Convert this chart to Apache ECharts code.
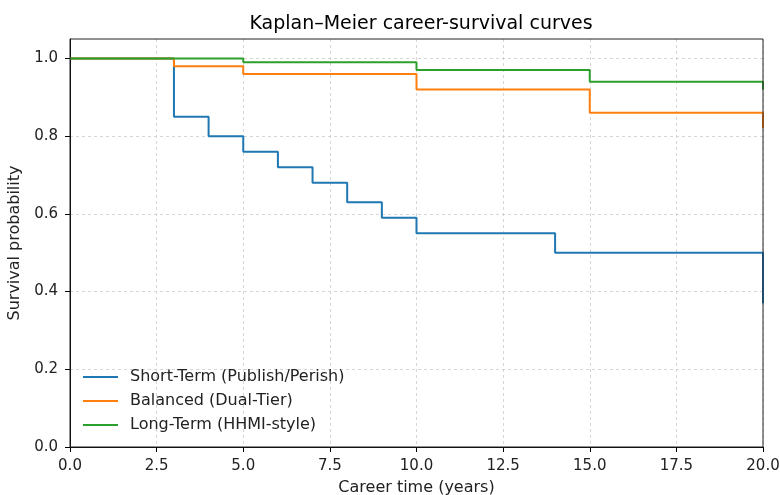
<!DOCTYPE html>
<html>
<head>
<meta charset="utf-8">
<script src="https://cdn.jsdelivr.net/npm/echarts@6/dist/echarts.min.js"></script>
<style>
  html, body { margin: 0; padding: 0; background: #fff; }
  #chart { width: 780px; height: 495px; }
</style>
</head>
<body>
<div id="chart"></div>
<script>
// step points: [time, survival] - value changes at that time
var shortTerm = [[0, 1.0], [3, 0.85], [4, 0.80], [5, 0.76], [6, 0.72], [7, 0.68], [8, 0.63], [9, 0.59], [10, 0.55], [14, 0.50], [20, 0.37]];
var balanced = [[0, 1.0], [3, 0.98], [5, 0.96], [10, 0.92], [15, 0.86], [20, 0.82]];
var longTerm = [[0, 1.0], [5, 0.99], [10, 0.97], [15, 0.94], [20, 0.92]];
var seriesNames = ['Short-Term (Publish/Perish)', 'Balanced (Dual-Tier)', 'Long-Term (HHMI-style)'];
var yTicks = [0, 0.2, 0.4, 0.6, 0.8, 1.0];

var font = 'DejaVu Sans';
var chart = echarts.init(document.getElementById('chart'));

function makeSeries(name, data, color) {
    return {
        name: name,
        type: 'line',
        step: 'end',
        data: data,
        showSymbol: false,
        symbol: 'none',
        lineStyle: { color: color, width: 2 },
        itemStyle: { color: color },
        z: 3,
        animation: false
    };
}

var option = {
    backgroundColor: '#fff',
    title: {
        text: 'Kaplan–Meier career-survival curves',
        left: 416,
        textAlign: 'center',
        top: 10,
        textStyle: { fontFamily: font, fontSize: 19, fontWeight: 'normal', color: '#000' }
    },
    grid: {
        left: 70, right: 17, top: 39, bottom: 48,
        outerBoundsMode: 'none',
        show: true, borderColor: '#222', borderWidth: 1, backgroundColor: 'transparent', z: 4
    },
    legend: {
        orient: 'vertical',
        left: 78,
        top: 364,
        itemWidth: 35,
        itemHeight: 2,
        itemGap: 8,
        icon: 'rect',
        data: seriesNames,
        textStyle: { fontFamily: font, fontSize: 16, color: '#222', padding: [0, 0, 0, 7] }
    },
    xAxis: {
        type: 'value',
        min: 0, max: 20, interval: 2.5,
        name: 'Career time (years)',
        nameLocation: 'middle',
        nameGap: 33,
        nameTextStyle: { fontFamily: font, fontSize: 16, color: '#222' },
        axisLine: { show: true, onZero: false, lineStyle: { color: '#000' } },
        axisTick: { show: true, length: 5, lineStyle: { color: '#000' } },
        axisLabel: {
            fontFamily: font, fontSize: 15, color: '#222', margin: 12,
            formatter: function (v) { return v.toFixed(1); }
        },
        splitLine: { show: true, lineStyle: { color: '#ccc', type: [3, 3], width: 0.8 } }
    },
    yAxis: {
        type: 'value',
        min: 0, max: 1.05, interval: 0.2,
        name: 'Survival probability',
        nameLocation: 'middle',
        nameGap: 41,
        nameTextStyle: { fontFamily: font, fontSize: 16, color: '#222' },
        axisLine: { show: true, lineStyle: { color: '#000' } },
        axisTick: { show: true, length: 5, customValues: yTicks, lineStyle: { color: '#000' } },
        axisLabel: {
            fontFamily: font, fontSize: 15, color: '#222', margin: 12,
            customValues: yTicks,
            formatter: function (v) { return v.toFixed(1); }
        },
        splitLine: { show: true, lineStyle: { color: '#ccc', type: [3, 3], width: 0.8 } }
    },
    series: [
        makeSeries(seriesNames[0], shortTerm, '#1f77b4'),
        makeSeries(seriesNames[1], balanced, '#ff7f0e'),
        makeSeries(seriesNames[2], longTerm, '#2ca02c')
    ]
};
chart.setOption(option);
</script>
</body>
</html>
